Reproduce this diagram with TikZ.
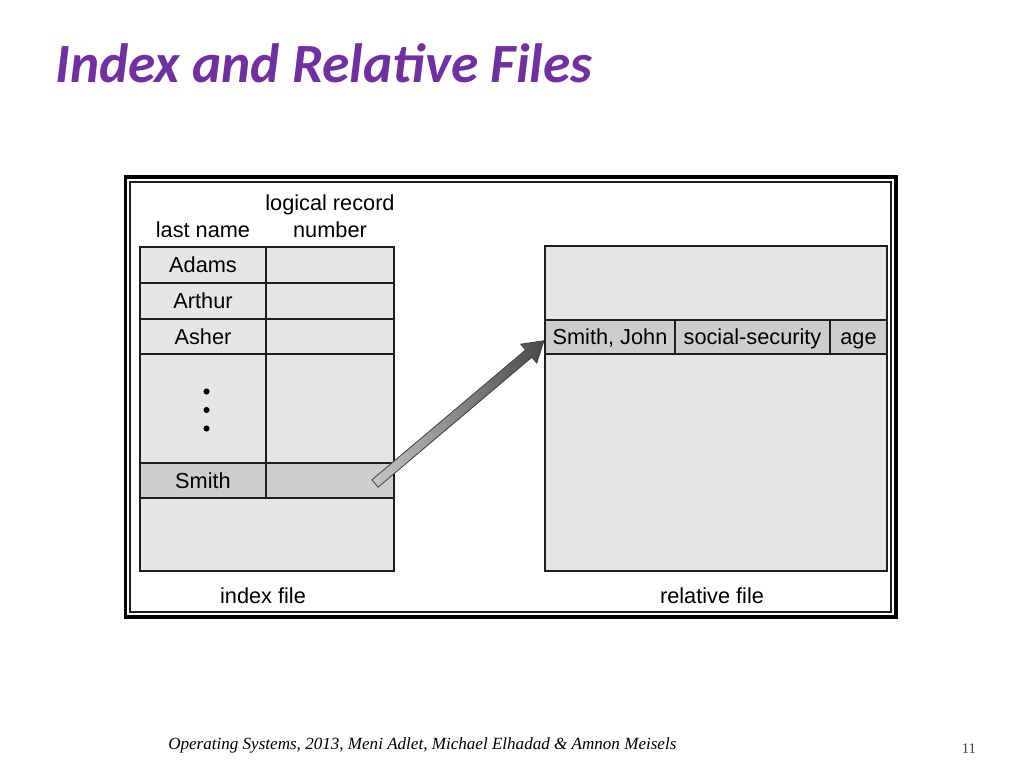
\documentclass[tikz,border=0pt]{standalone}
\usepackage{fontspec}
\setmainfont{Liberation Sans}
\newfontfamily\titlefont{Carlito}
\newfontfamily\footfont{Liberation Serif}
\usetikzlibrary{calc}
\definecolor{cellg}{HTML}{E6E6E6}
\definecolor{cellh}{HTML}{CDCDCF}
\definecolor{linec}{HTML}{1E1E1E}
\definecolor{titlec}{HTML}{7030A0}
\tikzset{
  cellbox/.style 2 args={draw=linec, line width=1.5pt, fill=cellg,
    minimum width=#1*0.75pt, minimum height=#2*0.75pt, inner sep=0pt,
    text height=11.7pt, text depth=0pt, font=\fontsize{16.3pt}{18pt}\selectfont},
  hlbox/.style={fill=cellh},
  lbl/.style={anchor=base, inner sep=0pt, font=\fontsize{16.3pt}{18pt}\selectfont},
  dotmark/.style={circle, fill=black, inner sep=0pt, minimum size=4.6pt},
}
\begin{document}
\begin{tikzpicture}[x=0.75pt, y=-0.75pt]
\useasboundingbox (0,0) rectangle (1024,768);
\fill[white] (0,0) rectangle (1024,768);
% title
\node[anchor=base west, inner sep=0pt, text=titlec, font=\titlefont\bfseries\itshape\fontsize{41.5pt}{44pt}\selectfont] (title) at (55,82) {Index and Relative Files};
% frame
\draw[black, line width=2.7pt] (125.5,177) rectangle (896,617);
\draw[linec, line width=0.8pt] (130,182) rectangle (891,612);
% index file headers
\node[lbl] (hlast) at (203,237.5) {last name};
\node[lbl] (hlog) at (330,210) {logical record};
\node[lbl] (hnum) at (330,237.5) {number};
% index cells
\node[cellbox={126}{36}] (adams) at (203,265) {Adams};
\node[cellbox={128}{36}] (adamsn) at (330,265) {};
\node[cellbox={126}{36}] (arthur) at (203,301) {Arthur};
\node[cellbox={128}{36}] (arthurn) at (330,301) {};
\node[cellbox={126}{35}] (asher) at (203,336.5) {Asher};
\node[cellbox={128}{35}] (ashern) at (330,336.5) {};
\node[cellbox={126}{109}] (gap) at (203,408.5) {};
\node[cellbox={128}{109}] (gapn) at (330,408.5) {};
\node[cellbox={126}{35}, hlbox] (smith) at (203,480.5) {Smith};
\node[cellbox={128}{35}, hlbox] (smithn) at (330,480.5) {};
\node[cellbox={254}{73}] (irest) at (267,534.5) {};
\node[dotmark] (d1) at (206.5,391.5) {};
\node[dotmark] (d2) at (206.5,410) {};
\node[dotmark] (d3) at (206.5,428.5) {};
\node[lbl] (ilabel) at (263,603) {index file};
% relative file
\node[cellbox={342}{74}] (rtop) at (716,283) {};
\node[cellbox={130}{35}, hlbox] (rname) at (610,337) {Smith, John};
\node[cellbox={155}{35}, hlbox] (rssn) at (752.5,337) {social-security};
\node[cellbox={57}{35}, hlbox] (rage) at (858.5,337) {age};
\node[cellbox={342}{217}] (rrest) at (716,462.5) {};
\node[lbl] (rlabel) at (712,603) {relative file};
% arrow
\coordinate (atail) at ($(smithn.center)+(45,3)$);
\coordinate (atip) at ($(rname.west)+(0,3.7)$);
\coordinate (ahead) at ($(atip)!15pt!(atail)$);
\shade[left color=black!22, right color=black!72, draw=black!75, line width=0.6pt]
  ($(atail)!3.6pt!90:(atip)$) -- ($(ahead)!3.6pt!-90:(atail)$) -- ($(ahead)!9.3pt!-90:(atail)$)
  -- (atip) -- ($(ahead)!9.3pt!90:(atail)$) -- ($(ahead)!3.6pt!90:(atail)$)
  -- ($(atail)!3.6pt!-90:(atip)$) -- cycle;
% footer
\node[anchor=base west, inner sep=0pt, font=\footfont\itshape\fontsize{12.8pt}{15pt}\selectfont] (foot) at (168,749) {Operating Systems, 2013, Meni Adlet, Michael Elhadad \& Amnon Meisels};
\node[anchor=base, inner sep=0pt, text=black!75, font=\footfont\fontsize{11pt}{12pt}\selectfont] (pnum) at (969,753) {11};
\end{tikzpicture}
\end{document}
